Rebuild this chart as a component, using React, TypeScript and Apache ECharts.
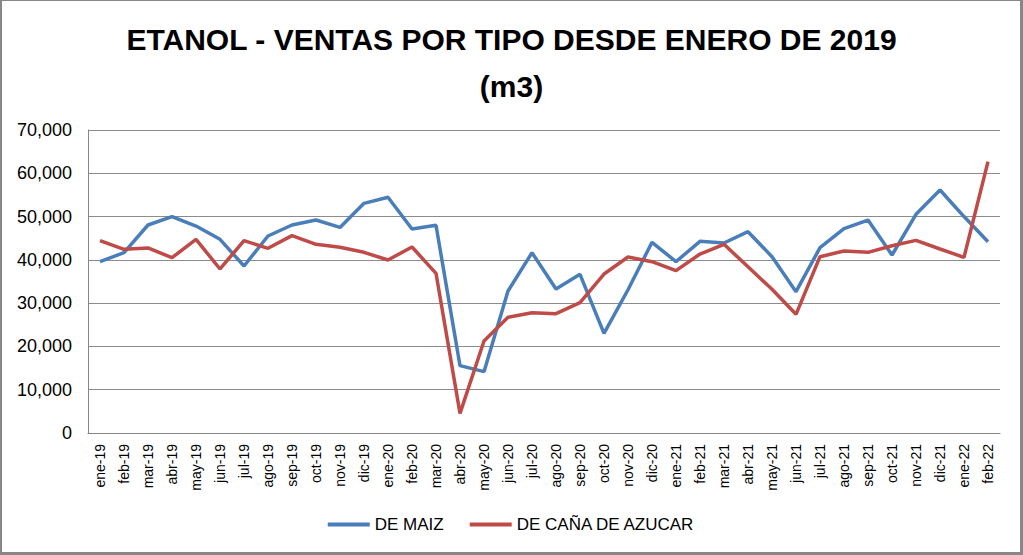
import React, { useEffect, useRef } from "react";
import * as echarts from "echarts";

const categories = [
  "ene-19", "feb-19", "mar-19", "abr-19", "may-19", "jun-19", "jul-19", "ago-19", "sep-19", "oct-19", "nov-19", "dic-19",
  "ene-20", "feb-20", "mar-20", "abr-20", "may-20", "jun-20", "jul-20", "ago-20", "sep-20", "oct-20", "nov-20", "dic-20",
  "ene-21", "feb-21", "mar-21", "abr-21", "may-21", "jun-21", "jul-21", "ago-21", "sep-21", "oct-21", "nov-21", "dic-21",
  "ene-22", "feb-22",
];

const deMaiz = [
  39600, 41650, 48050, 49970, 47820, 44740, 38580, 45510, 48050, 49200, 47500, 53060,
  54450, 47130, 47980, 15560, 14170, 32800, 41650, 33270, 36660, 23030, 33100, 44050,
  39580, 44280, 43890, 46510, 40730, 32650, 42810, 47200, 49200, 41120, 50520, 56140,
  50000, 44200,
];

const deCana = [
  44430, 42430, 42740, 40500, 44740, 37890, 44430, 42670, 45590, 43590, 42900, 41740,
  39970, 42970, 36890, 4540, 21250, 26720, 27800, 27570, 30100, 36730, 40660, 39580,
  37500, 41350, 43590, 38400, 33200, 27420, 40730, 42050, 41740, 43270, 44510, 42510,
  40590, 62680,
];

const seriesNames = ["DE MAIZ", "DE CAÑA DE AZUCAR"];
const titleText = "ETANOL - VENTAS POR TIPO DESDE ENERO DE 2019\n(m3)";

export default function App() {
  const ref = useRef<HTMLDivElement>(null);
  useEffect(() => {
    if (!ref.current) return;
    const chart = echarts.init(ref.current, null, { renderer: "svg" });
    const border = "#878787";
    chart.setOption({
      animation: false,
      backgroundColor: "#ffffff",
      title: {
        text: titleText,
        left: "center",
        top: 11,
        textStyle: {
          fontFamily: "Liberation Sans",
          fontWeight: "bold",
          fontSize: 30,
          lineHeight: 47,
          color: "#000000",
        },
      },
      grid: { left: 88, right: 23, top: 130, bottom: 122, containLabel: false },
      xAxis: {
        type: "category",
        data: categories,
        boundaryGap: true,
        axisLine: { lineStyle: { color: "#868686", width: 1 } },
        axisTick: { show: false },
        axisLabel: {
          rotate: 90,
          interval: 0,
          margin: 11,
          fontFamily: "Liberation Sans",
          fontSize: 14,
          color: "#000000",
        },
      },
      yAxis: {
        type: "value",
        min: 0,
        max: 70000,
        interval: 10000,
        axisLine: { show: true, lineStyle: { color: "#868686", width: 1 } },
        axisTick: { show: false },
        splitLine: { lineStyle: { color: "#8c8c8c", width: 1 } },
        axisLabel: {
          margin: 16,
          fontFamily: "Liberation Sans",
          fontSize: 18,
          color: "#000000",
          formatter: (v: number) => v.toLocaleString("en-US"),
        },
      },
      legend: {
        bottom: 17,
        left: "center",
        icon: "rect",
        itemWidth: 42,
        itemHeight: 4,
        itemGap: 26,
        textStyle: { fontFamily: "Liberation Sans", fontSize: 17, color: "#000000" },
        data: seriesNames,
      },
      series: [
        {
          name: seriesNames[0],
          type: "line",
          data: deMaiz,
          symbol: "none",
          lineStyle: { color: "#4A7EBB", width: 3.5 },
          itemStyle: { color: "#4A7EBB" },
        },
        {
          name: seriesNames[1],
          type: "line",
          data: deCana,
          symbol: "none",
          lineStyle: { color: "#BE4B48", width: 3.5 },
          itemStyle: { color: "#BE4B48" },
        },
      ],
      graphic: [
        { type: "rect", shape: { x: 0, y: 0, width: 1023, height: 1 }, style: { fill: border } },
        { type: "rect", shape: { x: 0, y: 0, width: 2, height: 555 }, style: { fill: border } },
        { type: "rect", shape: { x: 1020, y: 0, width: 3, height: 555 }, style: { fill: border } },
        { type: "rect", shape: { x: 0, y: 552, width: 1023, height: 3 }, style: { fill: border } },
      ],
    });
    return () => chart.dispose();
  }, []);
  return (
    <div
      ref={ref}
      style={{ position: "absolute", left: 0, top: 0, width: 1023, height: 555 }}
    />
  );
}
